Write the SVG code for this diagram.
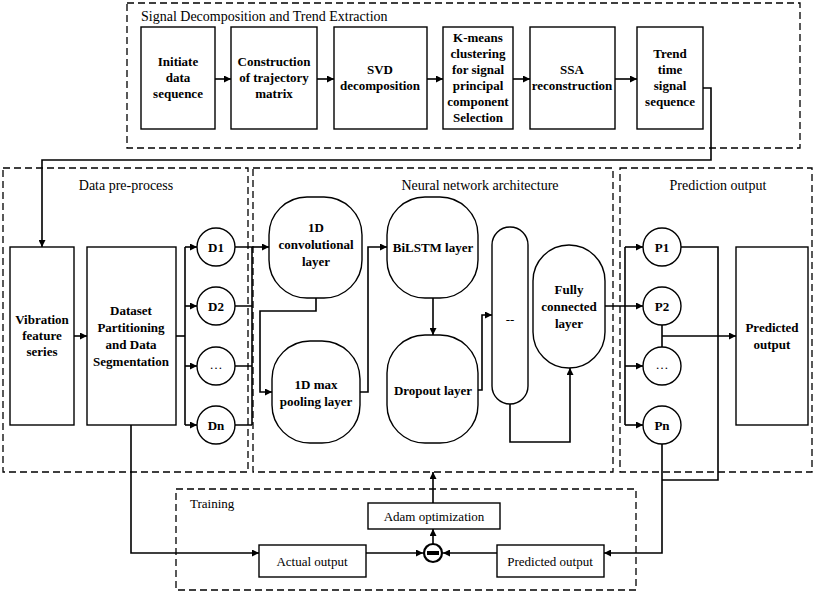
<svg xmlns="http://www.w3.org/2000/svg" width="816" height="593" viewBox="0 0 816 593" font-family="'Liberation Serif', 'Times New Roman', 'DejaVu Serif', serif">
<defs>
<marker id="a" viewBox="0 0 10 10" refX="10" refY="5" markerWidth="7" markerHeight="7" orient="auto" markerUnits="userSpaceOnUse"><path d="M0,0 L10,5 L0,10 z" fill="#000"/></marker>
<style>
.d{fill:none;stroke:#000;stroke-width:1.3;stroke-dasharray:7,4}
.b{fill:#fff;stroke:#000;stroke-width:1.4}
.c{fill:none;stroke:#000;stroke-width:1.6}
.ca{fill:none;stroke:#000;stroke-width:1.6;marker-end:url(#a)}
text{font-family:'Liberation Serif','Times New Roman','DejaVu Serif',serif;font-size:13px;text-anchor:middle;fill:#000}
.t{font-weight:bold}
.s{font-size:14px}
</style>
</defs>
<rect width="816" height="593" fill="#fff"/>
<g id="frames">
<rect class="d" x="127" y="3" width="673" height="145"/>
<text x="141" y="21" style="text-anchor:start" class="s">Signal Decomposition and Trend Extraction</text>
<rect class="d" x="3" y="168" width="245" height="304"/>
<text x="126" y="190" class="s">Data pre-process</text>
<rect class="d" x="253" y="168" width="360" height="304"/>
<text x="480" y="190" class="s">Neural network architecture</text>
<rect class="d" x="620" y="168" width="192" height="304"/>
<text x="718" y="190" class="s">Prediction output</text>
<rect class="d" x="176" y="489" width="460" height="101"/>
<text x="190" y="508" style="text-anchor:start">Training</text>
</g>
<g id="connectors">
<path class="ca" d="M215,79H231"/>
<path class="ca" d="M317,79H334"/>
<path class="ca" d="M427,79H443"/>
<path class="ca" d="M513,79H530"/>
<path class="ca" d="M615,79H637"/>
<path class="ca" d="M703,88H711V160H42V247"/>
<path class="ca" d="M74,336H87"/>
<path class="c" d="M176,336H185"/>
<path class="c" d="M185,247V425"/>
<path class="ca" d="M185,247H197"/><path class="ca" d="M185,306H197"/><path class="ca" d="M185,366H197"/><path class="ca" d="M185,425H197"/>
<path class="c" d="M235,247H252M235,306H252M235,366H252M235,425H252M252,247V425"/>
<path class="ca" d="M252,247H269"/>
<path class="ca" d="M316,298V311H260V392H272"/>
<path class="ca" d="M360,392H368V247H387"/>
<path class="ca" d="M433,298V335"/>
<path class="ca" d="M478,390H482V315H492"/>
<path class="ca" d="M510,404V442H570V368"/>
<path class="ca" d="M605,306H643"/>
<path class="c" d="M625,247V425"/>
<path class="ca" d="M625,247H643"/><path class="ca" d="M625,366H643"/><path class="ca" d="M625,425H643"/>
<path class="c" d="M681,247H718V480H662"/>
<path class="c" d="M662,325V347"/>
<path class="ca" d="M662,336H736"/>
<path class="ca" d="M662,444V553H604"/>
<path class="ca" d="M131,425V553H259"/>
<path class="ca" d="M366,553H423"/>
<path class="ca" d="M497,553H443"/>
<path class="ca" d="M433,544V529"/>
<path class="ca" d="M433,503V472"/>
</g>
<g id="n-init"><rect class="b" x="141" y="27" width="74" height="102"/><text class="t" x="178" y="66">Initiate</text><text class="t" x="178" y="82">data</text><text class="t" x="178" y="98">sequence</text></g>
<g id="n-traj"><rect class="b" x="231" y="27" width="86" height="102"/><text class="t" x="274" y="66">Construction</text><text class="t" x="274" y="82">of trajectory</text><text class="t" x="274" y="98">matrix</text></g>
<g id="n-svd"><rect class="b" x="334" y="27" width="93" height="102"/><text class="t" x="380" y="74">SVD</text><text class="t" x="380" y="90">decomposition</text></g>
<g id="n-km"><rect class="b" x="443" y="27" width="70" height="102"/><text class="t" x="478" y="42">K-means</text><text class="t" x="478" y="58">clustering</text><text class="t" x="478" y="74">for signal</text><text class="t" x="478" y="90">principal</text><text class="t" x="478" y="106">component</text><text class="t" x="478" y="122">Selection</text></g>
<g id="n-ssa"><rect class="b" x="530" y="27" width="85" height="102"/><text class="t" x="572" y="74">SSA</text><text class="t" x="572" y="90">reconstruction</text></g>
<g id="n-trend"><rect class="b" x="637" y="27" width="66" height="102"/><text class="t" x="670" y="58">Trend</text><text class="t" x="670" y="74">time</text><text class="t" x="670" y="90">signal</text><text class="t" x="670" y="106">sequence</text></g>
<g id="n-vib"><rect class="b" x="10" y="247" width="64" height="178"/><text class="t" x="42" y="324">Vibration</text><text class="t" x="42" y="340">feature</text><text class="t" x="42" y="356">series</text></g>
<g id="n-ds"><rect class="b" x="87" y="247" width="89" height="178"/><text class="t" x="131" y="315">Dataset</text><text class="t" x="131" y="332">Partitioning</text><text class="t" x="131" y="349">and Data</text><text class="t" x="131" y="366">Segmentation</text></g>
<g id="n-d1"><circle class="b" cx="216" cy="247" r="19"/><text class="t" x="216" y="252">D1</text></g>
<g id="n-d2"><circle class="b" cx="216" cy="306" r="19"/><text class="t" x="216" y="311">D2</text></g>
<g id="n-d3"><circle class="b" cx="216" cy="366" r="19"/><text x="216" y="369">…</text></g>
<g id="n-dn"><circle class="b" cx="216" cy="425" r="19"/><text class="t" x="216" y="430">Dn</text></g>
<g id="n-conv"><rect class="b" x="269" y="197" width="93" height="101" rx="38"/><text class="t" x="316" y="232">1D</text><text class="t" x="316" y="249">convolutional</text><text class="t" x="316" y="266">layer</text></g>
<g id="n-pool"><rect class="b" x="272" y="341" width="88" height="102" rx="38"/><text class="t" x="316" y="389">1D max</text><text class="t" x="316" y="406">pooling layer</text></g>
<g id="n-bilstm"><rect class="b" x="387" y="197" width="91" height="101" rx="38"/><text class="t" x="433" y="252">BiLSTM layer</text></g>
<g id="n-drop"><rect class="b" x="387" y="335" width="91" height="108" rx="38"/><text class="t" x="433" y="395">Dropout layer</text></g>
<g id="n-dots"><rect class="b" x="492" y="227" width="36" height="177" rx="18"/><text x="510" y="324">--</text></g>
<g id="n-fc"><rect class="b" x="533" y="245" width="72" height="123" rx="36"/><text class="t" x="569" y="294">Fully</text><text class="t" x="569" y="311">connected</text><text class="t" x="569" y="328">layer</text></g>
<g id="n-p1"><circle class="b" cx="662" cy="247" r="19"/><text class="t" x="662" y="252">P1</text></g>
<g id="n-p2"><circle class="b" cx="662" cy="306" r="19"/><text class="t" x="662" y="311">P2</text></g>
<g id="n-p3"><circle class="b" cx="662" cy="366" r="19"/><text x="662" y="369">…</text></g>
<g id="n-pn"><circle class="b" cx="662" cy="425" r="19"/><text class="t" x="662" y="430">Pn</text></g>
<g id="n-pred"><rect class="b" x="736" y="247" width="72" height="178"/><text class="t" x="772" y="332">Predicted</text><text class="t" x="772" y="349">output</text></g>
<g id="n-adam"><rect class="b" x="368" y="503" width="132" height="26"/><text x="434" y="521">Adam optimization</text></g>
<g id="n-act"><rect class="b" x="259" y="545" width="107" height="32"/><text x="312" y="566">Actual output</text></g>
<g id="n-po"><rect class="b" x="497" y="545" width="107" height="32"/><text x="550" y="566">Predicted output</text></g>
<g id="n-minus"><circle cx="433" cy="553" r="9" fill="#fff" stroke="#000" stroke-width="2.2"/><rect x="427" y="551" width="12" height="4" fill="#000"/></g>
</svg>
